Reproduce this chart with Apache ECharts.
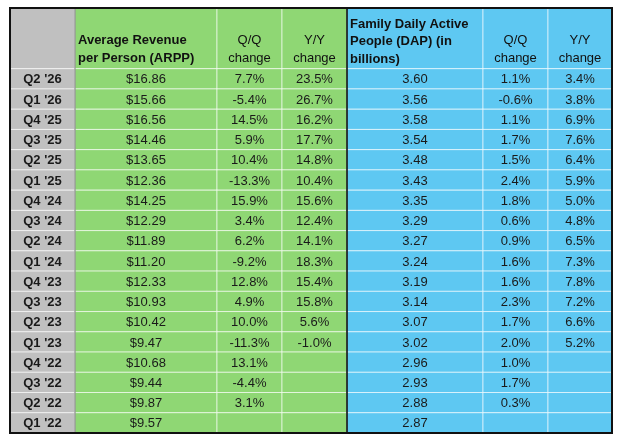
<!DOCTYPE html>
<html>
<head>
<meta charset="utf-8">
<script src="https://cdn.jsdelivr.net/npm/echarts@6/dist/echarts.min.js"></script>
<style>
    html, body { margin: 0; padding: 0; background: #fff; }
    #chart { width: 622px; height: 442px; }
</style>
</head>
<body>
<div id="chart"></div>
<script>
// table data, newest quarter first
var quarters = ["Q2 '26", "Q1 '26", "Q4 '25", "Q3 '25", "Q2 '25", "Q1 '25", "Q4 '24", "Q3 '24", "Q2 '24",
    "Q1 '24", "Q4 '23", "Q3 '23", "Q2 '23", "Q1 '23", "Q4 '22", "Q3 '22", "Q2 '22", "Q1 '22"];
var arpp = [16.86, 15.66, 16.56, 14.46, 13.65, 12.36, 14.25, 12.29, 11.89, 11.20, 12.33, 10.93, 10.42, 9.47, 10.68, 9.44, 9.87, 9.57];
var arppQoQ = [7.7, -5.4, 14.5, 5.9, 10.4, -13.3, 15.9, 3.4, 6.2, -9.2, 12.8, 4.9, 10.0, -11.3, 13.1, -4.4, 3.1, null];
var arppYoY = [23.5, 26.7, 16.2, 17.7, 14.8, 10.4, 15.6, 12.4, 14.1, 18.3, 15.4, 15.8, 5.6, -1.0, null, null, null, null];
var dap = [3.60, 3.56, 3.58, 3.54, 3.48, 3.43, 3.35, 3.29, 3.27, 3.24, 3.19, 3.14, 3.07, 3.02, 2.96, 2.93, 2.88, 2.87];
var dapQoQ = [1.1, -0.6, 1.1, 1.7, 1.5, 2.4, 1.8, 0.6, 0.9, 1.6, 1.6, 2.3, 1.7, 2.0, 1.0, 1.7, 0.3, null];
var dapYoY = [3.4, 3.8, 6.9, 7.6, 6.4, 5.9, 5.0, 4.8, 6.5, 7.3, 7.8, 7.2, 6.6, 5.2, null, null, null, null];
var headers = ["", "Average Revenue\nper Person (ARPP)", "Q/Q\nchange", "Y/Y\nchange",
    "Family Daily Active\nPeople (DAP) (in\nbillions)", "Q/Q\nchange", "Y/Y\nchange"];

// layout
var colEdges = [0, 65, 207, 272, 337, 473, 538, 602];
var colFill = ['#c0c0c0', '#8fd774', '#8fd774', '#8fd774', '#5ec8f2', '#5ec8f2', '#5ec8f2'];
var headRows = 3;
var font = 'Liberation Sans, Arial, sans-serif';

function money(v) { return '$' + v.toFixed(2); }
function pct(v) { return v == null ? '' : v.toFixed(1) + '%'; }

// build the cell list
var cells = [];
headers.forEach(function (h, c) {
    cells.push({col: c, y0: 0, y1: headRows, text: h, head: true});
});
quarters.forEach(function (q, r) {
    var row = [q, money(arpp[r]), pct(arppQoQ[r]), pct(arppYoY[r]), dap[r].toFixed(2), pct(dapQoQ[r]), pct(dapYoY[r])];
    row.forEach(function (t, c) {
        cells.push({col: c, y0: headRows + r, y1: headRows + r + 1, text: t, head: false});
    });
});

function renderCell(params, api) {
    var c = cells[params.dataIndex];
    var p0 = api.coord([colEdges[c.col], c.y0]);
    var p1 = api.coord([colEdges[c.col + 1], c.y1]);
    var rect = {
        type: 'rect',
        shape: {x: p0[0], y: p0[1], width: p1[0] - p0[0], height: p1[1] - p0[1]},
        style: {fill: colFill[c.col], stroke: 'rgba(255,255,255,0.6)', lineWidth: 1}
    };
    var txt;
    if (c.head) {
        var left = (c.col === 1 || c.col === 4);
        txt = {
            type: 'text',
            style: {
                text: c.text,
                x: left ? p0[0] + 3 : (p0[0] + p1[0]) / 2,
                y: p1[1] - 1,
                align: left ? 'left' : 'center',
                verticalAlign: 'bottom',
                lineHeight: c.col === 4 ? 17.5 : 18,
                font: (left ? 'bold ' : '') + '13px ' + font,
                fill: '#111'
            }
        };
    } else {
        txt = {
            type: 'text',
            style: {
                text: c.text,
                x: (p0[0] + p1[0]) / 2,
                y: (p0[1] + p1[1]) / 2 + 1,
                align: 'center',
                verticalAlign: 'middle',
                font: (c.col === 0 ? 'bold ' : '') + '13px ' + font,
                fill: '#1a1a1a'
            }
        };
    }
    return {type: 'group', children: [rect, txt]};
}

function renderFrame(params, api) {
    var top = api.coord([0, 0]);
    var bottom = api.coord([colEdges[colEdges.length - 1], headRows + quarters.length]);
    var a = api.coord([colEdges[1], 0])[0];
    var b = api.coord([colEdges[4], 0])[0];
    return {
        type: 'group',
        children: [
            {type: 'line', shape: {x1: a, y1: top[1], x2: a, y2: bottom[1]}, style: {stroke: '#777', lineWidth: 1}},
            {type: 'line', shape: {x1: b, y1: top[1], x2: b, y2: bottom[1]}, style: {stroke: '#000', lineWidth: 1.5}},
            {type: 'rect', shape: {x: top[0], y: top[1], width: bottom[0] - top[0], height: bottom[1] - top[1]},
                style: {fill: 'none', stroke: '#111', lineWidth: 2}}
        ]
    };
}

var chart = echarts.init(document.getElementById('chart'), null, {renderer: 'canvas'});
chart.setOption({
    animation: false,
    grid: {left: 10, top: 8, width: 602, height: 425},
    xAxis: {type: 'value', min: 0, max: colEdges[colEdges.length - 1], show: false},
    yAxis: {type: 'value', min: 0, max: headRows + quarters.length, inverse: true, show: false},
    series: [
        {
            type: 'custom',
            renderItem: renderCell,
            data: cells.map(function (c) { return [colEdges[c.col], c.y0]; }),
            silent: true,
            z: 2
        },
        {
            type: 'custom',
            renderItem: renderFrame,
            data: [[0, 0]],
            silent: true,
            z: 3
        }
    ]
});
</script>
</body>
</html>
